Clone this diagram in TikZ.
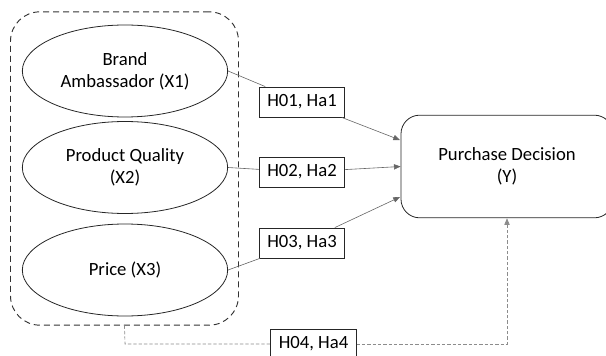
\documentclass[tikz,border=0pt]{standalone}
\usepackage{fontspec}
\setmainfont{Carlito}
\usetikzlibrary{shapes.geometric,arrows.meta}
\begin{document}
\begin{tikzpicture}[x=0.75pt,y=-0.75pt,
  font=\fontsize{14}{16.5}\selectfont,
  construct/.style={draw=black!85,ellipse,minimum width=154pt,minimum height=69pt,inner sep=0pt,align=center,line width=0.6pt},
  hyp/.style={draw=black!85,rectangle,minimum width=64pt,minimum height=22.5pt,inner sep=0pt,line width=0.6pt},
  target/.style={draw=black!85,rectangle,rounded corners=14pt,minimum width=159pt,minimum height=77pt,align=center,line width=0.6pt},
  link/.style={draw=black!60,line width=0.45pt},
  tip/.style={-{Triangle[length=5pt,width=4pt]}},
  graylink/.style={draw=black!45,line width=0.5pt,dash pattern=on 2.5pt off 1.5pt}
]
\useasboundingbox (0,0) rectangle (606,356);

% independent variables group
\node[draw=black!80,dash pattern=on 4.5pt off 3pt,rounded corners=22pt,line width=0.7pt,minimum width=171pt,minimum height=235pt] (grp) at (124.5,168.5) {};

\node[construct] (x1) at (125,71) {Brand\\Ambassador (X1)};
\node[construct] (x2) at (125,167.5) {Product Quality\\(X2)};
\node[construct] (x3) at (125,270) {Price (X3)};

\node[hyp] (h1) at (302,102) {H01, Ha1};
\node[hyp] (h2) at (302,172) {H02, Ha2};
\node[hyp] (h3) at (302,243) {H03, Ha3};
\node[hyp] (h4) at (313.5,344) {H04, Ha4};

\node[target] (y) at (507,166.5) {Purchase Decision\\(Y)};

\coordinate (y1) at (400,140);
\coordinate (y3) at (400,197);
\coordinate (g) at (125,344);
\coordinate (yb) at (507,344);

% hypothesis paths
\draw[link] (x1.east) -- (h1);
\draw[link,tip] (h1) -- (y1);
\draw[link] (x2.east) -- (h2);
\draw[link,tip] (h2) -- (y.west);
\draw[link] (x3.east) -- (h3);
\draw[link,tip] (h3) -- (y3);

% simultaneous effect
\draw[graylink] (grp.south) -- (g) -- (h4.west);
\draw[graylink,tip] (h4.east) -- (yb) -- (y.south);
\end{tikzpicture}
\end{document}
